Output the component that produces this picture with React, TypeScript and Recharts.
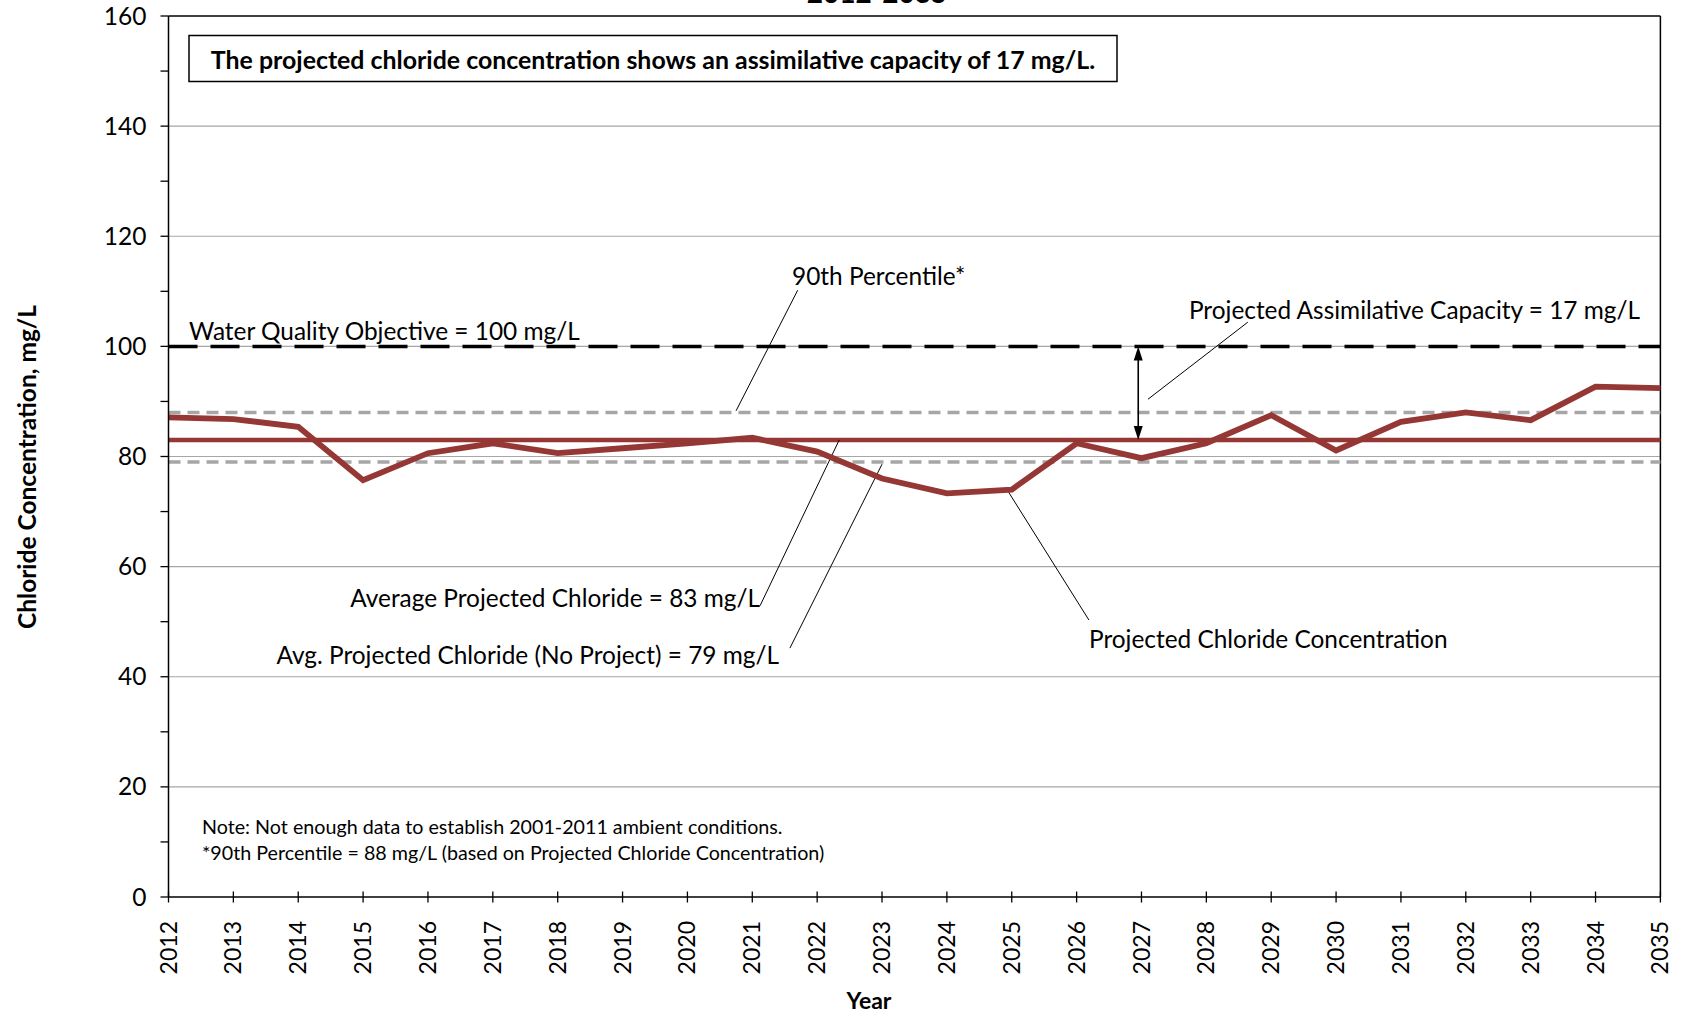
import React from "react";
import { LineChart, Line, XAxis, YAxis, CartesianGrid, ReferenceLine } from "recharts";

const years = [
  2012, 2013, 2014, 2015, 2016, 2017, 2018, 2019, 2020, 2021, 2022, 2023,
  2024, 2025, 2026, 2027, 2028, 2029, 2030, 2031, 2032, 2033, 2034, 2035,
];
const chloride = [
  87.1, 86.8, 85.4, 75.7, 80.6, 82.4, 80.6, 81.5, 82.4, 83.4, 80.9, 76.0,
  73.3, 74.0, 82.4, 79.7, 82.4, 87.5, 81.1, 86.3, 88.0, 86.6, 92.7, 92.4,
];
const objective = 100;
const percentile90 = 88;
const avgProjected = 83;
const avgNoProject = 79;
const yTicks = [0, 10, 20, 30, 40, 50, 60, 70, 80, 90, 100, 110, 120, 130, 140, 150, 160];
const gridLevels = [20, 40, 60, 80, 100, 120, 140];

// leader lines from the labels to the lines they describe, in data units
const leaders = [
  [[2021.7, 110.2], [2020.75, 88.3]],
  [[2028.64, 104.4], [2027.1, 90.4]],
  [[2021.12, 52.9], [2022.34, 83.0]],
  [[2021.58, 45.2], [2023.0, 78.6]],
  [[2026.19, 50.3], [2024.91, 74.3]],
];
const arrowYear = 2026.95;

const data = years.map((year, i) => ({ year, chloride: chloride[i] }));

const RED = "#953735";
const FONT = "Lato, 'Open Sans', sans-serif";

function YTick(props: any) {
  const { x, y, payload } = props;
  const major = payload.value % 20 === 0;
  return (
    <g>
      <line x1={x - 8} x2={x} y1={y} y2={y} stroke="#000" strokeWidth={1.3} />
      {major && (
        <text x={x - 22} y={y} dy="0.35em" textAnchor="end" fontSize={24.5} fontFamily={FONT} fill="#000">
          {payload.value}
        </text>
      )}
    </g>
  );
}

function XTick(props: any) {
  const { x, y, payload } = props;
  return (
    <g>
      <line x1={x} x2={x} y1={y - 5.5} y2={y + 5.5} stroke="#000" strokeWidth={1.3} />
      <text
        x={x}
        y={y + 24}
        dy="0.35em"
        textAnchor="end"
        fontSize={23}
        fontFamily={FONT}
        fill="#000"
        transform={`rotate(-90, ${x}, ${y + 24})`}
      >
        {payload.value}
      </text>
    </g>
  );
}

function DoubleArrow(props: any) {
  const { x1, y1, x2, y2 } = props;
  const top = Math.min(y1, y2);
  const bottom = Math.max(y1, y2);
  return (
    <g>
      <line x1={x1} x2={x2} y1={top + 10} y2={bottom - 10} stroke="#000" strokeWidth={1.6} />
      <polygon points={`${x1},${top} ${x1 - 4.5},${top + 14} ${x1 + 4.5},${top + 14}`} fill="#000" />
      <polygon points={`${x1},${bottom} ${x1 - 4.5},${bottom - 14} ${x1 + 4.5},${bottom - 14}`} fill="#000" />
    </g>
  );
}

export default function App() {
  const txt = { fontFamily: FONT, fontSize: 24.4, fill: "#000" };
  return (
    <div style={{ position: "absolute", left: 0, top: 0, width: 1683, height: 1016, background: "#fff" }}>
      <LineChart
        width={1683}
        height={1016}
        data={data}
        margin={{ top: 16, right: 22.6, bottom: 0, left: 68.5 }}
      >
        <CartesianGrid horizontal vertical={false} horizontalValues={gridLevels} stroke="#a6a6a6" strokeWidth={1.2} />
        <XAxis
          dataKey="year"
          type="number"
          domain={[2012, 2035]}
          ticks={years}
          interval={0}
          tickSize={0}
          tickMargin={0}
          tick={XTick}
          axisLine={{ stroke: "#000", strokeWidth: 1.5 }}
          height={119}
        />
        <YAxis
          domain={[0, 160]}
          ticks={yTicks}
          interval={0}
          tickSize={0}
          tickMargin={0}
          tick={YTick}
          axisLine={{ stroke: "#000", strokeWidth: 1.5 }}
          width={100}
        />
        <ReferenceLine y={160} stroke="#000" strokeWidth={1.5} />
        <ReferenceLine x={2035} stroke="#000" strokeWidth={1.5} />
        <ReferenceLine y={percentile90} stroke="#a6a6a6" strokeWidth={3.5} strokeDasharray="12 7" />
        <ReferenceLine y={avgNoProject} stroke="#a6a6a6" strokeWidth={3.5} strokeDasharray="12 7" />
        <ReferenceLine y={objective} stroke="#000" strokeWidth={3.5} strokeDasharray="29 13" />
        <ReferenceLine y={avgProjected} stroke={RED} strokeWidth={4.6} />
        {leaders.map((seg, i) => (
          <ReferenceLine
            key={i}
            segment={[
              { x: seg[0][0], y: seg[0][1] },
              { x: seg[1][0], y: seg[1][1] },
            ]}
            stroke="#000"
            strokeWidth={1}
          />
        ))}
        <ReferenceLine
          segment={[
            { x: arrowYear, y: objective },
            { x: arrowYear, y: avgProjected },
          ]}
          shape={DoubleArrow}
        />
        <Line
          type="linear"
          dataKey="chloride"
          stroke={RED}
          strokeWidth={5.8}
          dot={false}
          activeDot={false}
          isAnimationActive={false}
        />
      </LineChart>
      <svg
        width={1683}
        height={1016}
        style={{ position: "absolute", left: 0, top: 0, pointerEvents: "none" }}
      >
        <text x={877} y={3} textAnchor="middle" fontFamily={FONT} fontSize={28} fontWeight="bold" fill="#000">
          2012-2035
        </text>
        <rect x={189} y={35.5} width={928} height={46} fill="#fff" stroke="#000" strokeWidth={1.5} />
        <text x={653} y={69} textAnchor="middle" {...txt} fontWeight="bold" fontSize={24.9}>
          The projected chloride concentration shows an assimilative capacity of 17 mg/L.
        </text>
        <text x={792} y={285} {...txt}>90th Percentile*</text>
        <text x={189} y={340} {...txt}>Water Quality Objective = 100 mg/L</text>
        <text x={1640} y={319} textAnchor="end" {...txt}>Projected Assimilative Capacity = 17 mg/L</text>
        <text x={760} y={607} textAnchor="end" {...txt}>Average Projected Chloride = 83 mg/L</text>
        <text x={779} y={664} textAnchor="end" {...txt}>Avg. Projected Chloride (No Project) = 79 mg/L</text>
        <text x={1089} y={648} {...txt}>Projected Chloride Concentration</text>
        <text x={202} y={834} {...txt} fontSize={19.7}>
          Note: Not enough data to establish 2001-2011 ambient conditions.
        </text>
        <text x={202} y={860} {...txt} fontSize={19.7}>
          *90th Percentile = 88 mg/L (based on Projected Chloride Concentration)
        </text>
        <text
          x={27}
          y={467}
          textAnchor="middle"
          dy="0.35em"
          fontFamily={FONT}
          fontSize={24.5}
          fontWeight="bold"
          transform="rotate(-90, 27, 467)"
        >
          Chloride Concentration, mg/L
        </text>
        <text x={869} y={1001} dy="0.35em" textAnchor="middle" fontFamily={FONT} fontSize={23} fontWeight="bold">
          Year
        </text>
      </svg>
    </div>
  );
}
